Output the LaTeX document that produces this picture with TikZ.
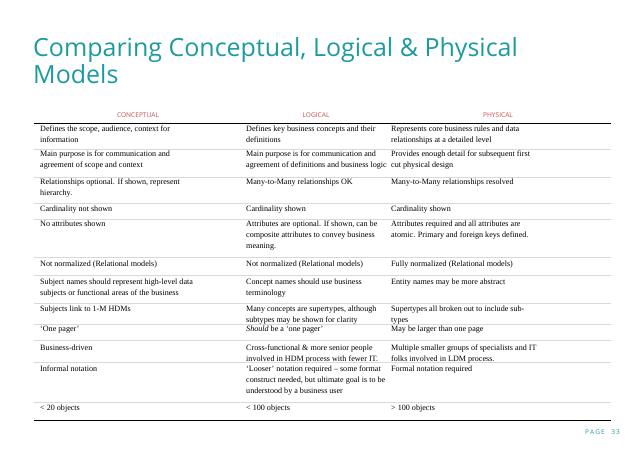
\documentclass[tikz,border=0pt]{standalone}
\usepackage{fontspec}
\setmainfont{Liberation Serif}
\newfontfamily\ttl{Open Sans}
\definecolor{teal}{HTML}{1C9AA0}
\definecolor{hdr}{HTML}{C0504D}
\definecolor{sep}{HTML}{D9D9D9}
\begin{document}
\begin{tikzpicture}[x=1pt,y=-1pt,
  cell/.style={anchor=north west,align=left,inner sep=0pt,font=\fontsize{8.1}{11}\selectfont},
  head/.style={inner sep=0pt,font=\ttl\fontsize{6.6}{7}\selectfont,text=hdr},
  rule/.style={draw=sep,line width=0.6pt}]
\useasboundingbox (0,0) rectangle (638,452);
\node[anchor=north west,inner sep=0pt,align=left,text=teal,font=\ttl\fontsize{25}{27}\selectfont] (title) at (33,37) {Comparing Conceptual, Logical \& Physical\\Models};
\node[head] (h1) at (138,115) {CONCEPTUAL};
\node[head] (h2) at (316,115) {LOGICAL};
\node[head] (h3) at (498,115) {PHYSICAL};
\draw[line width=1pt] (34,124) -- (611,124);
\foreach \y in {149,177,203,219,257,275,303,324,340,362,402} \draw[rule] (34,\y) -- (611,\y);
\draw[line width=1pt] (34,420) -- (611,420);
\def\C#1#2#3#4{\node[cell] at (40,#1) {#2};\node[cell] at (246,#1) {#3};\node[cell] at (391,#1) {#4};}
\C{126}{Defines the scope, audience, context for\\information}{Defines key business concepts and their\\definitions}{Represents core business rules and data\\relationships at a detailed level}
\C{151}{Main purpose is for communication and\\agreement of scope and context}{Main purpose is for communication and\\agreement of definitions and business logic}{Provides enough detail for subsequent first\\cut physical design}
\C{179}{Relationships optional. If shown, represent\\hierarchy.}{Many-to-Many relationships OK}{Many-to-Many relationships resolved}
\C{206}{Cardinality not shown}{Cardinality shown}{Cardinality shown}
\C{221}{No attributes shown}{Attributes are optional. If shown, can be\\composite attributes to convey business\\meaning.}{Attributes required and all attributes are\\atomic. Primary and foreign keys defined.}
\C{261}{Not normalized (Relational models)}{Not normalized (Relational models)}{Fully normalized (Relational models)}
\C{279}{Subject names should represent high-level data\\subjects or functional areas of the business}{Concept names should use business\\terminology}{Entity names may be more abstract}
\C{306}{Subjects link to 1-M HDMs}{Many concepts are supertypes, although\\subtypes may be shown for clarity}{Supertypes all broken out to include sub-\\types}
\C{326}{`One pager'}{\textit{Should} be a `one pager'}{May be larger than one page}
\C{345}{Business-driven}{Cross-functional \& more senior people\\involved in HDM process with fewer IT.}{Multiple smaller groups of specialists and IT\\folks involved in LDM process.}
\C{366}{Informal notation}{`Looser' notation required -- some format\\construct needed, but ultimate goal is to be\\understood by a business user}{Formal notation required}
\C{405}{< 20 objects}{< 100 objects}{> 100 objects}
\node[anchor=east,inner sep=0pt,text=teal,font=\ttl\fontsize{6.5}{7}\selectfont] (pg) at (620,432) {P\,A\,G\,E\quad 3\,3};
\end{tikzpicture}
\end{document}
